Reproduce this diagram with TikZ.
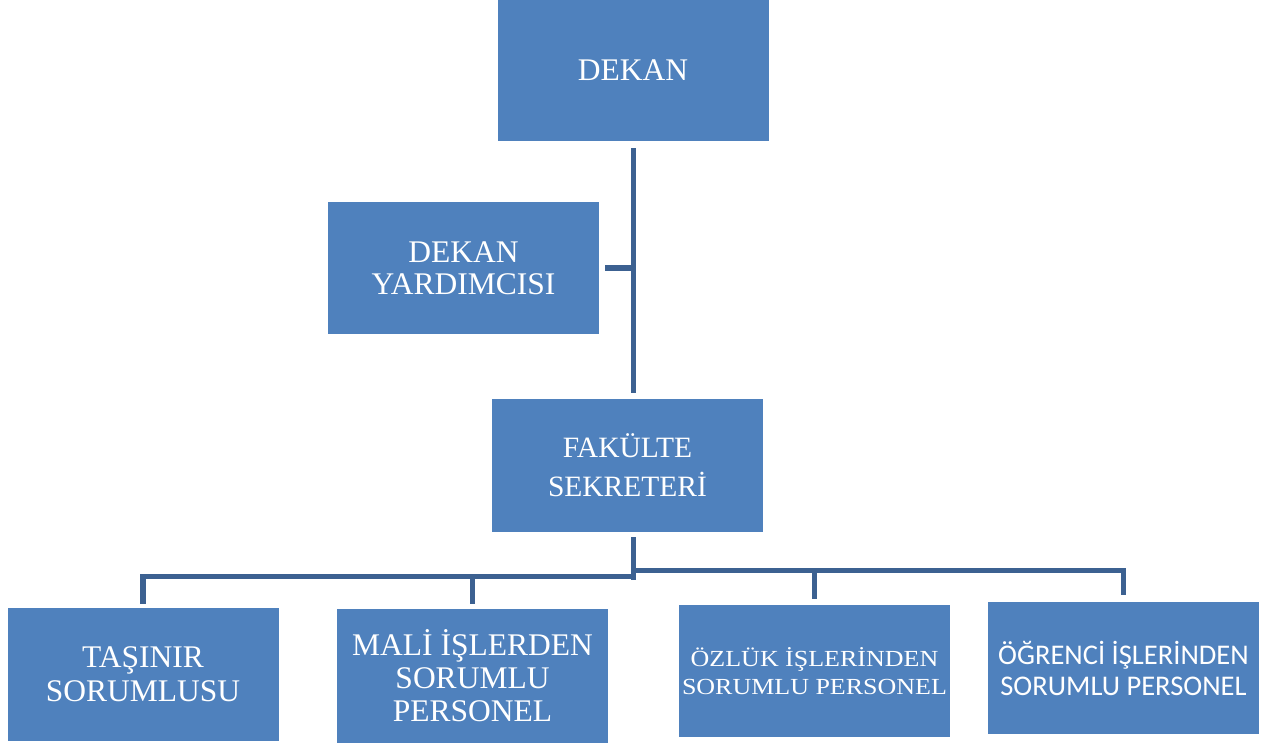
\documentclass[tikz,border=0pt]{standalone}
\usepackage{fontspec}
\setmainfont{Liberation Serif}
\newfontfamily\calibri{Carlito}
\newfontfamily\wideserif[FakeStretch=1.13]{Liberation Serif}
\usepackage{tikz}
\usetikzlibrary{positioning}
\definecolor{boxblue}{HTML}{4F81BD}
\definecolor{linkblue}{HTML}{3C6191}
\tikzstyle{box} = [fill=boxblue, text=white, minimum width=271pt, minimum height=133pt, inner sep=0pt, align=center, font=\fontsize{31.5}{34}\selectfont]
\tikzstyle{link} = [linkblue, line width=5.5pt]

\begin{document}
\begin{tikzpicture}[x=1pt, y=-1pt]
        \useasboundingbox (0, 0) rectangle (1262, 744);
        \node[box, minimum height=141pt] (dekan) at (633, 70.5) {DEKAN};
        \node[box, minimum height=132pt, font=\fontsize{31.5}{32}\selectfont] (yard) at (463.5, 268) {DEKAN\\YARDIMCISI};
        \node[box, font=\fontsize{29.5}{39}\selectfont] (sekreter) at (627.5, 465.5) {FAKÜLTE\\SEKRETERİ};
        \node[box] (tasinir) at (143, 674.5) {TAŞINIR\\SORUMLUSU};
        \node[box, minimum height=134pt, font=\fontsize{31.5}{33}\selectfont] (mali) at (472.5, 676) {MALİ İŞLERDEN\\SORUMLU\\PERSONEL};
        \node[box, minimum height=132pt, font=\wideserif\fontsize{23}{28.5}\selectfont] (ozluk) at (814.5, 671) {ÖZLÜK İŞLERİNDEN\\SORUMLU PERSONEL};
        \node[box, minimum height=132pt, font=\calibri\fontsize{28.5}{31}\selectfont] (ogrenci) at (1123.5, 668) {ÖĞRENCİ İŞLERİNDEN\\SORUMLU PERSONEL};
        \coordinate (hubL) at (633.5, 576.5);
        \coordinate (hubR) at (633.5, 570.5);
        \draw[link] ([yshift=-7pt]dekan.south -| hubL) -- ([yshift=6pt]sekreter.north -| hubL);
        \draw[link] ([xshift=6pt]yard.east) -- (yard.east -| hubL);
        \draw[link] ([yshift=-5pt]sekreter.south -| hubL) -- ([yshift=-3pt]hubL);
        \draw[link] ([yshift=4pt]tasinir.north) |- (hubL);
        \draw[link] ([yshift=5pt]mali.north) -- (mali.north |- hubL);
        \draw[link] (hubR) -| ([yshift=7pt]ogrenci.north);
        \draw[link] (ozluk.north |- hubR) -- ([yshift=6pt]ozluk.north);
        \end{tikzpicture}
\end{document}
